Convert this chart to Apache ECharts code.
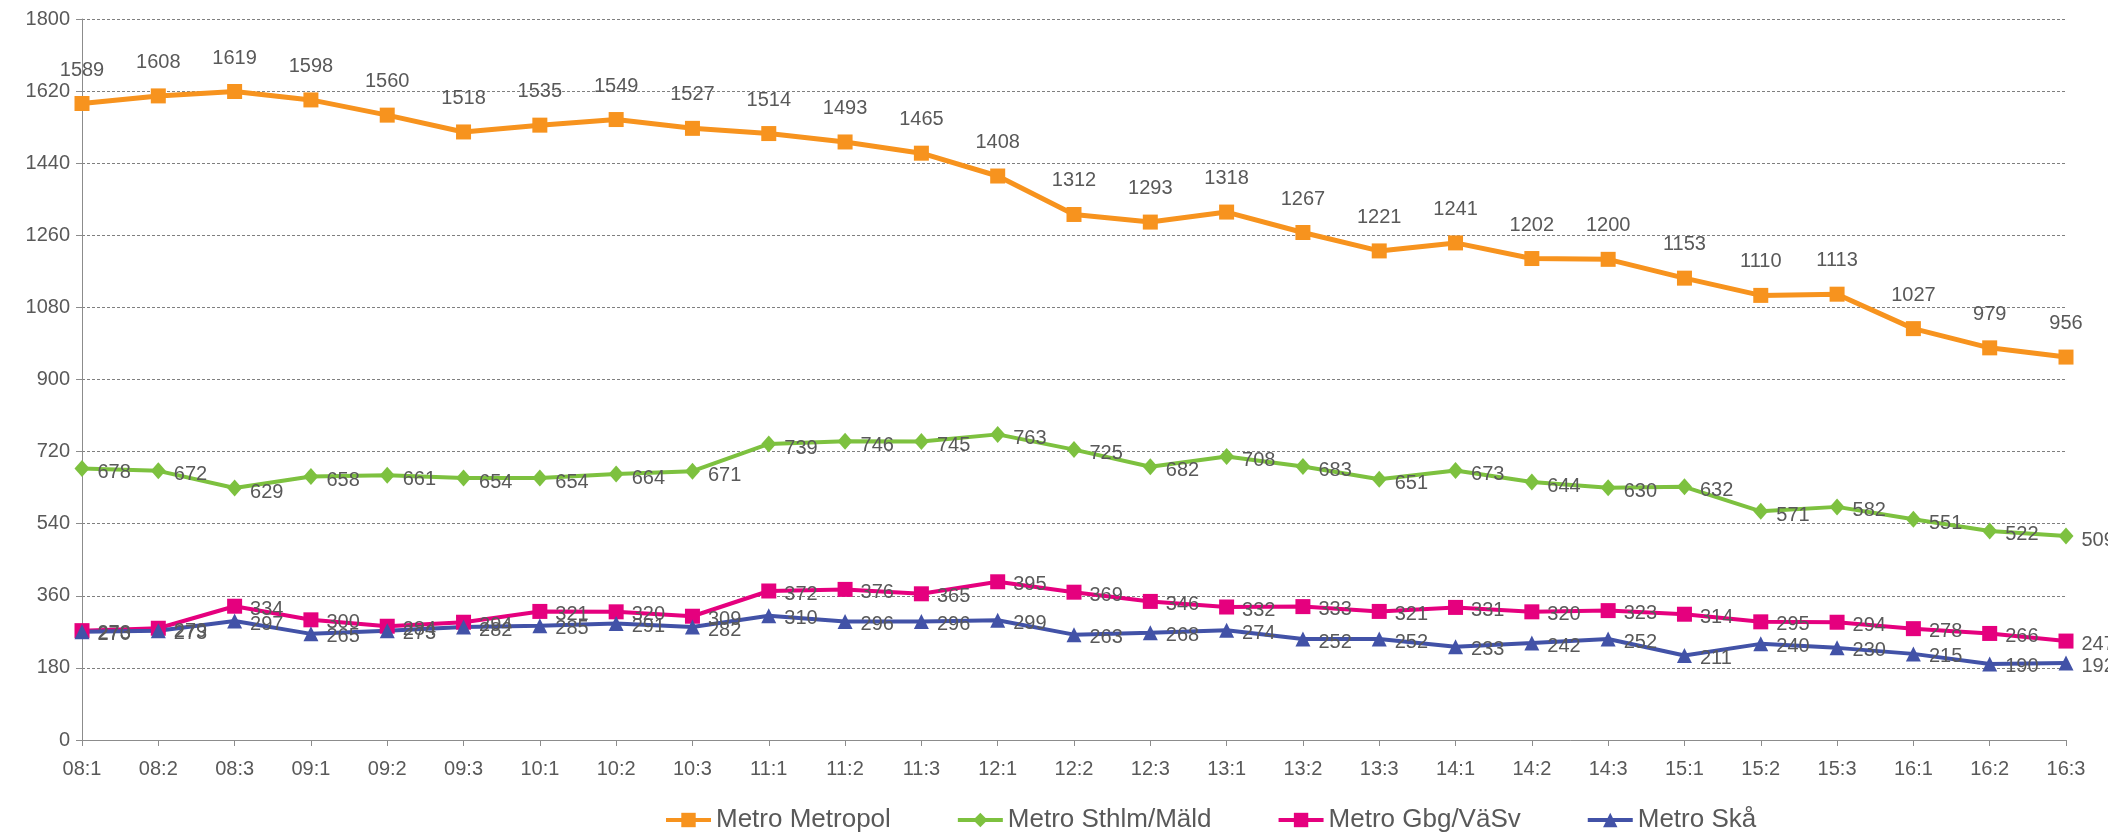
<!DOCTYPE html>
<html>
<head>
<meta charset="utf-8">
<script src="https://cdn.jsdelivr.net/npm/echarts@6/dist/echarts.min.js"></script>
<style>
html,body{margin:0;padding:0;background:#fff;}
#chart{width:2108px;height:832px;}
</style>
</head>
<body>
<div id="chart"></div>
<script>
const categories = ["08:1","08:2","08:3","09:1","09:2","09:3","10:1","10:2","10:3","11:1","11:2","11:3","12:1","12:2","12:3","13:1","13:2","13:3","14:1","14:2","14:3","15:1","15:2","15:3","16:1","16:2","16:3"];
const metropol = [1589,1608,1619,1598,1560,1518,1535,1549,1527,1514,1493,1465,1408,1312,1293,1318,1267,1221,1241,1202,1200,1153,1110,1113,1027,979,956];
const sthlm = [678,672,629,658,661,654,654,664,671,739,746,745,763,725,682,708,683,651,673,644,630,632,571,582,551,522,509];
const gbg = [273,279,334,300,284,294,321,320,309,372,376,365,395,369,346,332,333,321,331,320,323,314,295,294,278,266,247];
const ska = [270,273,297,265,273,282,285,291,282,310,296,296,299,263,268,274,252,252,233,242,252,211,240,230,215,190,192];
const seriesNames = ["Metro Metropol","Metro Sthlm/Mäld","Metro Gbg/VäSv","Metro Skå"];
const yTicks = {min:0, max:1800, interval:180};

const FONT = '"Liberation Sans", Arial, sans-serif';
const TXT = '#595959';
const lblBase = {show:true, color:TXT, fontFamily:FONT, fontSize:20};

const chart = echarts.init(document.getElementById('chart'), null, {renderer:'canvas'});
chart.setOption({
  animation:false,
  backgroundColor:'#fff',
  textStyle:{fontFamily:FONT},
  grid:{left:82, right:42, top:19, bottom:92, containLabel:false},
  legend:{
    data:seriesNames, top:802, left:659, itemGap:65, itemWidth:45, itemHeight:18,
    lineStyle:{width:4},
    textStyle:{color:TXT, fontFamily:FONT, fontSize:26}
  },
  xAxis:{
    type:'category', data:categories, boundaryGap:false,
    axisLine:{lineStyle:{color:'#8c8c8c', width:1}},
    axisTick:{show:true, alignWithLabel:true, length:6, lineStyle:{color:'#8c8c8c'}},
    axisLabel:{color:TXT, fontFamily:FONT, fontSize:20, margin:19, interval:0},
    splitLine:{show:false}
  },
  yAxis:{
    type:'value', min:yTicks.min, max:yTicks.max, interval:yTicks.interval,
    axisLine:{show:true, lineStyle:{color:'#8c8c8c', width:1}},
    axisTick:{show:true, length:6, lineStyle:{color:'#8c8c8c'}},
    axisLabel:{color:TXT, fontFamily:FONT, fontSize:20, margin:12, formatter:function(v){return String(v);}},
    splitLine:{show:true, lineStyle:{color:'#7f7f7f', type:[3,2], width:1}}
  },
  series:[
    {name:seriesNames[0], type:'line', data:metropol, symbol:'rect', symbolSize:15,
     lineStyle:{width:5, color:'#F7931E'}, itemStyle:{color:'#F7931E'},
     label:Object.assign({}, lblBase, {position:'top', distance:16})},
    {name:seriesNames[1], type:'line', data:sthlm, symbol:'diamond', symbolSize:[15,17],
     lineStyle:{width:4, color:'#7DC13F'}, itemStyle:{color:'#7DC13F'},
     label:Object.assign({}, lblBase, {position:'right', distance:8, offset:[0,4]})},
    {name:seriesNames[2], type:'line', data:gbg, symbol:'rect', symbolSize:15,
     lineStyle:{width:4, color:'#E5007E'}, itemStyle:{color:'#E5007E'},
     label:Object.assign({}, lblBase, {position:'right', distance:8, offset:[0,3]})},
    {name:seriesNames[3], type:'line', data:ska, symbol:'triangle', symbolSize:15,
     lineStyle:{width:4, color:'#4252A7'}, itemStyle:{color:'#4252A7'},
     label:Object.assign({}, lblBase, {position:'right', distance:8, offset:[0,3]})}
  ]
});
</script>
</body>
</html>
